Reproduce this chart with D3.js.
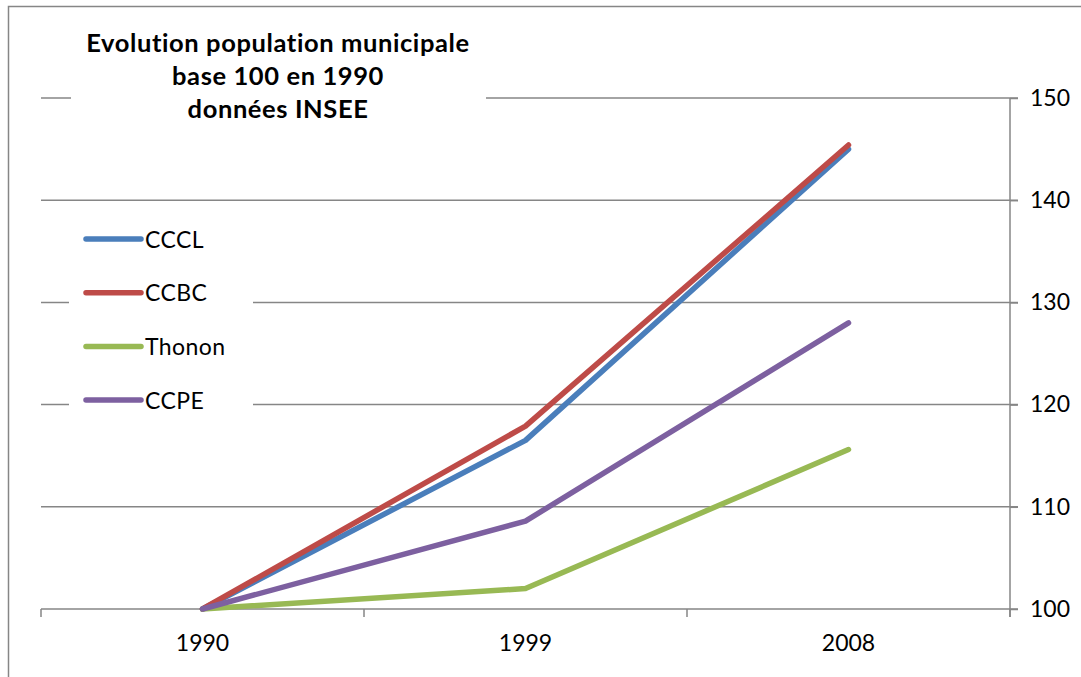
<!DOCTYPE html>
<html><head><meta charset="utf-8">
<script src="https://cdn.jsdelivr.net/npm/d3@7"></script>
<style>
html,body{margin:0;padding:0;background:#fff;}
svg{display:block;font-family:Lato,"Open Sans",sans-serif;}
</style></head>
<body>
<svg id="chart" width="1081" height="677"></svg>
<script>
const years = ["1990","1999","2008"];
const seriesNames = ["CCCL","CCBC","Thonon","CCPE"];
const cccl = [100, 116.5, 145.0];
const ccbc = [100, 117.9, 145.4];
const thonon = [100, 102.0, 115.6];
const ccpe = [100, 108.6, 128.0];
const yTicks = [100,110,120,130,140,150];
const titleLines = ["Evolution population municipale","base 100 en 1990","données INSEE"];
const colors = ["#4A7EBB","#BE4B48","#98B954","#7D60A0"];

const series = [cccl, ccbc, thonon, ccpe].map((v,i)=>({name:seriesNames[i], values:v, color:colors[i]}));

const svg = d3.select("#chart");
const grey = "#868686";

// outer frame
svg.append("path").attr("d","M8.5,677 V6.5 H1081").attr("fill","none").attr("stroke",grey).attr("stroke-width",1.5);

const x = d3.scaleBand().domain(years).range([41,1010]).padding(0);
const y = d3.scaleLinear().domain([100,150]).range([609,98]);
const xc = d => x(d) + x.bandwidth()/2;

// gridlines
const grid = svg.append("g");
grid.selectAll("line").data(yTicks).join("line")
  .attr("x1",41).attr("x2",1018)
  .attr("y1",d=>y(d)).attr("y2",d=>y(d))
  .attr("stroke",grey).attr("stroke-width",1.5);

// right axis
const yAxis = d3.axisRight(y).tickValues(yTicks).tickSize(8).tickPadding(12).tickFormat(d3.format("d"));
const ya = svg.append("g").attr("transform","translate(1010,0)").call(yAxis);
ya.select(".domain").attr("stroke",grey).attr("stroke-width",1.5).attr("d","M0,"+y(150)+"V"+(y(100)+8));
ya.selectAll(".tick line").attr("stroke",grey).attr("stroke-width",1.5);
ya.selectAll(".tick text").attr("font-size",23).attr("fill","#000").attr("font-family","Lato");

// bottom axis: tick marks at category boundaries
const bounds = years.map(d=>x(d)).concat([x(years[years.length-1])+x.bandwidth()]);
svg.append("g").selectAll("line").data(bounds).join("line")
  .attr("x1",d=>d).attr("x2",d=>d).attr("y1",y(100)).attr("y2",y(100)+8)
  .attr("stroke",grey).attr("stroke-width",1.5);
svg.append("g").selectAll("text").data(years).join("text")
  .attr("x",d=>xc(d)).attr("y",651).attr("text-anchor","middle")
  .attr("font-size",23).attr("fill","#000").text(d=>d);

// title box (covers gridlines)
svg.append("rect").attr("x",71).attr("y",20).attr("width",415).attr("height",110).attr("fill","#fff");
svg.append("g").selectAll("text").data(titleLines).join("text")
  .attr("x",278).attr("y",(d,i)=>52+i*33).attr("text-anchor","middle")
  .attr("font-size",25.5).attr("font-weight","bold").attr("letter-spacing",0.6)
  .style("font-variant-ligatures","none")
  .attr("fill","#000").text(d=>d);

// legend box
svg.append("rect").attr("x",69).attr("y",210).attr("width",184).attr("height",215).attr("fill","#fff");
const leg = svg.append("g").selectAll("g").data(series).join("g")
  .attr("transform",(d,i)=>`translate(0,${239+i*53.7})`);
leg.append("line").attr("x1",86).attr("x2",141).attr("y1",0).attr("y2",0)
  .attr("stroke",d=>d.color).attr("stroke-width",5.5).attr("stroke-linecap","round");
leg.append("text").attr("x",145).attr("y",8.5).attr("font-size",23).attr("letter-spacing",0.4).attr("fill","#000").text(d=>d.name);

// lines
const line = d3.line().x((d,i)=>xc(years[i])).y(d=>y(d));
svg.append("g").selectAll("path").data(series).join("path")
  .attr("d",d=>line(d.values)).attr("fill","none")
  .attr("stroke",d=>d.color).attr("stroke-width",5.5)
  .attr("stroke-linecap","round").attr("stroke-linejoin","round");
</script>
</body></html>
